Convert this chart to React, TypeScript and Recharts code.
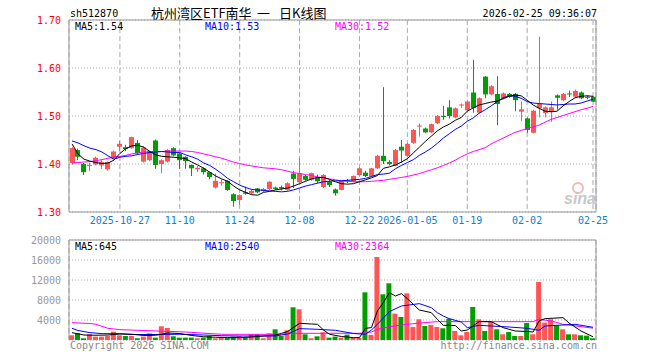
import React from 'react';
import { ComposedChart, Bar, Line, XAxis, YAxis, CartesianGrid, Cell, ReferenceLine } from 'recharts';

const RED = '#ff5555';
const GREEN = '#009f00';
const MONO = '"DejaVu Sans Mono", monospace';
const CJK = '"Noto Sans CJK SC", sans-serif';

// trading days shown (2025-10-15 .. 2026-02-25)
const dates = [
  '2025-10-15', '2025-10-16', '2025-10-17', '2025-10-20', '2025-10-21', '2025-10-22', '2025-10-23', '2025-10-24',
  '2025-10-27', '2025-10-28', '2025-10-29', '2025-10-30', '2025-10-31',
  '2025-11-03', '2025-11-04', '2025-11-05', '2025-11-06', '2025-11-07', '2025-11-10', '2025-11-11', '2025-11-12',
  '2025-11-13', '2025-11-14', '2025-11-17', '2025-11-18', '2025-11-19', '2025-11-20', '2025-11-21', '2025-11-24',
  '2025-11-25', '2025-11-26', '2025-11-27', '2025-11-28',
  '2025-12-01', '2025-12-02', '2025-12-03', '2025-12-04', '2025-12-05', '2025-12-08', '2025-12-09', '2025-12-10',
  '2025-12-11', '2025-12-12', '2025-12-15', '2025-12-16', '2025-12-17', '2025-12-18', '2025-12-19', '2025-12-22',
  '2025-12-23', '2025-12-24', '2025-12-25', '2025-12-26', '2025-12-29', '2025-12-30', '2025-12-31',
  '2026-01-05', '2026-01-06', '2026-01-07', '2026-01-08', '2026-01-09', '2026-01-12', '2026-01-13', '2026-01-14',
  '2026-01-15', '2026-01-16', '2026-01-19', '2026-01-20', '2026-01-21', '2026-01-22', '2026-01-23', '2026-01-26',
  '2026-01-27', '2026-01-28', '2026-01-29', '2026-01-30',
  '2026-02-02', '2026-02-03', '2026-02-04', '2026-02-05', '2026-02-06', '2026-02-09', '2026-02-10', '2026-02-11',
  '2026-02-12', '2026-02-13', '2026-02-24', '2026-02-25',
];

const opens = [
  1.402, 1.429, 1.400, 1.396, 1.399, 1.397, 1.389, 1.412, 1.436, 1.435,
  1.433, 1.444, 1.405, 1.408, 1.449, 1.400, 1.405, 1.433, 1.422, 1.415,
  1.398, 1.389, 1.391, 1.383, 1.351, 1.360, 1.365, 1.337, 1.325, 1.341,
  1.339, 1.349, 1.344, 1.348, 1.351, 1.352, 1.346, 1.380, 1.362, 1.375,
  1.367, 1.372, 1.352, 1.363, 1.347, 1.346, 1.366, 1.363, 1.377, 1.382,
  1.374, 1.391, 1.417, 1.404, 1.396, 1.436, 1.417, 1.444, 1.478, 1.474,
  1.466, 1.485, 1.500, 1.518, 1.497, 1.522, 1.512, 1.549, 1.507, 1.582,
  1.545, 1.546, 1.537, 1.546, 1.546, 1.509, 1.495, 1.465, 1.516, 1.506,
  1.508, 1.543, 1.533, 1.547, 1.540, 1.549, 1.540, 1.540,
];
const closes = [
  1.433, 1.415, 1.383, 1.398, 1.413, 1.404, 1.404, 1.426, 1.442, 1.431,
  1.456, 1.423, 1.434, 1.426, 1.398, 1.408, 1.429, 1.418, 1.408, 1.406,
  1.391, 1.392, 1.383, 1.373, 1.365, 1.362, 1.346, 1.323, 1.335, 1.338,
  1.344, 1.341, 1.348, 1.363, 1.348, 1.349, 1.360, 1.369, 1.381, 1.367,
  1.381, 1.364, 1.377, 1.356, 1.339, 1.365, 1.364, 1.375, 1.391, 1.375,
  1.391, 1.417, 1.406, 1.400, 1.429, 1.428, 1.442, 1.471, 1.480, 1.466,
  1.483, 1.500, 1.498, 1.500, 1.516, 1.524, 1.530, 1.517, 1.537, 1.545,
  1.562, 1.525, 1.547, 1.540, 1.533, 1.514, 1.471, 1.511, 1.525, 1.518,
  1.518, 1.538, 1.546, 1.546, 1.552, 1.537, 1.539, 1.530,
];
const highs = [
  1.436, 1.432, 1.402, 1.403, 1.415, 1.409, 1.405, 1.428, 1.448, 1.440,
  1.457, 1.450, 1.437, 1.428, 1.451, 1.410, 1.431, 1.435, 1.424, 1.416,
  1.399, 1.396, 1.393, 1.384, 1.380, 1.368, 1.366, 1.339, 1.337, 1.353,
  1.347, 1.350, 1.350, 1.364, 1.353, 1.355, 1.362, 1.386, 1.412, 1.377,
  1.382, 1.378, 1.379, 1.367, 1.349, 1.366, 1.369, 1.376, 1.393, 1.386,
  1.392, 1.419, 1.560, 1.408, 1.431, 1.450, 1.444, 1.473, 1.484, 1.476,
  1.484, 1.502, 1.521, 1.533, 1.518, 1.526, 1.532, 1.617, 1.539, 1.583,
  1.564, 1.583, 1.549, 1.548, 1.548, 1.530, 1.497, 1.513, 1.665, 1.520,
  1.530, 1.545, 1.548, 1.553, 1.555, 1.551, 1.543, 1.541,
];
const lows = [
  1.399, 1.408, 1.377, 1.385, 1.397, 1.390, 1.386, 1.410, 1.427, 1.427,
  1.432, 1.420, 1.403, 1.406, 1.390, 1.381, 1.403, 1.416, 1.390, 1.390,
  1.375, 1.383, 1.378, 1.368, 1.349, 1.355, 1.344, 1.311, 1.315, 1.336,
  1.336, 1.339, 1.342, 1.346, 1.346, 1.345, 1.344, 1.350, 1.360, 1.365,
  1.365, 1.360, 1.350, 1.352, 1.334, 1.345, 1.360, 1.362, 1.376, 1.373,
  1.373, 1.390, 1.400, 1.397, 1.395, 1.402, 1.415, 1.442, 1.457, 1.464,
  1.464, 1.483, 1.492, 1.495, 1.495, 1.517, 1.510, 1.507, 1.505, 1.537,
  1.543, 1.481, 1.535, 1.538, 1.510, 1.490, 1.465, 1.464, 1.497, 1.497,
  1.488, 1.513, 1.531, 1.540, 1.538, 1.535, 1.535, 1.529,
];

const ma5 = [
  1.442, 1.421, 1.410, 1.406, 1.403, 1.401, 1.402, 1.408, 1.422, 1.432,
  1.438, 1.439, 1.435, 1.426, 1.419, 1.416, 1.415, 1.414, 1.413, 1.411,
  1.404, 1.398, 1.391, 1.383, 1.375, 1.369, 1.364, 1.354, 1.346, 1.341,
  1.336, 1.335, 1.341, 1.343, 1.346, 1.348, 1.350, 1.354, 1.359, 1.364,
  1.369, 1.372, 1.372, 1.368, 1.363, 1.359, 1.358, 1.359, 1.363, 1.367,
  1.371, 1.376, 1.391, 1.394, 1.398, 1.404, 1.411, 1.423, 1.435, 1.447,
  1.458, 1.469, 1.477, 1.483, 1.491, 1.497, 1.510, 1.517, 1.523, 1.526,
  1.529, 1.531, 1.536, 1.541, 1.544, 1.542, 1.533, 1.523, 1.516, 1.510,
  1.509, 1.510, 1.521, 1.530, 1.538, 1.541, 1.542, 1.541,
];
const ma10 = [
  1.448, 1.444, 1.438, 1.433, 1.430, 1.425, 1.417, 1.410, 1.414, 1.416,
  1.417, 1.420, 1.422, 1.424, 1.425, 1.426, 1.425, 1.424, 1.424, 1.419,
  1.415, 1.410, 1.402, 1.397, 1.389, 1.380, 1.370, 1.363, 1.356, 1.351,
  1.347, 1.346, 1.345, 1.344, 1.343, 1.342, 1.343, 1.346, 1.350, 1.354,
  1.357, 1.360, 1.363, 1.364, 1.365, 1.365, 1.366, 1.367, 1.368, 1.370,
  1.374, 1.378, 1.379, 1.381, 1.390, 1.397, 1.403, 1.409, 1.418, 1.425,
  1.433, 1.443, 1.454, 1.463, 1.472, 1.479, 1.489, 1.496, 1.506, 1.513,
  1.521, 1.530, 1.538, 1.542, 1.541, 1.537, 1.530, 1.527, 1.526, 1.525,
  1.524, 1.523, 1.524, 1.525, 1.525, 1.527, 1.531, 1.535,
];
const ma30 = [
  1.402, 1.403, 1.404, 1.405, 1.407, 1.409, 1.412, 1.414, 1.416, 1.418,
  1.421, 1.423, 1.425, 1.426, 1.426, 1.426, 1.427, 1.427, 1.427, 1.427,
  1.426, 1.424, 1.421, 1.418, 1.415, 1.412, 1.408, 1.404, 1.401, 1.398,
  1.396, 1.394, 1.392, 1.391, 1.390, 1.388, 1.385, 1.382, 1.380, 1.378,
  1.376, 1.373, 1.371, 1.369, 1.367, 1.365, 1.364, 1.363, 1.363, 1.363,
  1.364, 1.365, 1.366, 1.368, 1.370, 1.372, 1.374, 1.377, 1.380, 1.384,
  1.388, 1.392, 1.397, 1.402, 1.408, 1.415, 1.421, 1.426, 1.430, 1.434,
  1.442, 1.448, 1.454, 1.460, 1.466, 1.470, 1.474, 1.477, 1.481, 1.487,
  1.493, 1.497, 1.501, 1.505, 1.509, 1.513, 1.516, 1.520,
];

const volumes = [
  940, 1340, 340, 1140, 670, 670, 810, 1670, 940, 810,
  810, 340, 670, 1340, 470, 2740, 2410, 740, 470, 470,
  470, 340, 470, 810, 340, 600, 470, 680, 800, 470,
  1140, 1140, 340, 1340, 2140, 800, 1940, 6540, 6140, 1140,
  340, 740, 1540, 470, 680, 470, 1070, 470, 470, 9540,
  1000, 16600, 9140, 11340, 5270, 4600, 9340, 2600, 4140, 2800,
  3000, 2600, 2340, 4270, 1800, 940, 1600, 6600, 4140, 1800,
  3600, 2140, 1140, 1600, 800, 800, 3400, 1140, 11600, 3470,
  4140, 2940, 2140, 1140, 1140, 940, 870, 340,
];

// volume moving averages, read at [day index, value]
const volMa5 = [
  [0, 1470], [2, 1000], [4, 950], [6, 1000], [8, 1200], [10, 1150], [12, 900], [14, 950], [16, 1400],
  [18, 1300], [20, 900], [22, 650], [24, 550], [26, 480], [28, 470], [30, 600], [32, 800], [34, 1000],
  [35, 1340], [36, 1700], [38, 3340], [40, 3200], [41, 3140], [42, 2000], [43, 1140], [45, 700], [47, 470],
  [48, 470], [49, 2340], [50, 2470], [51, 5800], [52, 7500], [53, 9470], [54, 8800], [55, 9270], [56, 8270],
  [58, 6000], [60, 5470], [61, 4140], [62, 2940], [64, 2900], [65, 1800], [66, 2000], [68, 3670], [70, 3670],
  [72, 2470], [74, 1800], [76, 1700], [77, 1600], [78, 3800], [79, 4270], [82, 4470], [83, 3400], [85, 1800],
  [87, 645],
];
const volMa10 = [
  [0, 2340], [1, 1900], [3, 1470], [5, 1270], [8, 1270], [10, 1100], [14, 1100], [18, 1150], [22, 1000],
  [25, 850], [28, 800], [34, 800], [35, 1000], [36, 1200], [38, 2270], [41, 2140], [44, 1940], [47, 1300],
  [49, 1140], [50, 2000], [51, 3140], [53, 5670], [55, 6800], [58, 7270], [60, 6470], [61, 5470], [62, 4800],
  [63, 4270], [65, 3600], [66, 2470], [68, 2940], [73, 2600], [76, 2340], [78, 1940], [79, 2800], [84, 3140],
  [87, 2540],
];
const volMa30 = [
  [0, 3470], [3, 3300], [4, 3140], [6, 2340], [8, 2070], [11, 1940], [19, 1600], [25, 1140], [35, 1140],
  [36, 1340], [48, 1340], [50, 1600], [51, 2140], [53, 2670], [56, 3140], [58, 3400], [61, 3670], [77, 3670],
  [78, 4140], [80, 3800], [82, 3140], [85, 2670], [87, 2364],
];

const tickDates = ['2025-10-27', '2025-11-10', '2025-11-24', '2025-12-08', '2025-12-22', '2026-01-05', '2026-01-19', '2026-02-02', '2026-02-25'];
const tickLabels = ['2025-10-27', '11-10', '11-24', '12-08', '12-22', '2026-01-05', '01-19', '02-02', '02-25'];
const priceTicks = [1.3, 1.4, 1.5, 1.6, 1.7];
const volTicks = [0, 4000, 8000, 12000, 16000, 20000];

const at = (pts: number[][], i: number) => {
  const p = pts.find((q) => q[0] === i);
  return p ? p[1] : null;
};

const rows = dates.map((d, i) => ({
  date: d,
  open: opens[i],
  close: closes[i],
  high: highs[i],
  low: lows[i],
  range: [lows[i], highs[i]],
  ma5: ma5[i],
  ma10: ma10[i],
  ma30: ma30[i],
  vol: volumes[i],
  vma5: at(volMa5, i),
  vma10: at(volMa10, i),
  vma30: at(volMa30, i),
}));

const Candle = (props: any) => {
  const { x, y, width, height, payload } = props;
  if (x == null || payload == null) return null;
  const top = height < 0 ? y + height : y;
  const h = Math.abs(height);
  const { open, close, high, low } = payload;
  const color = close >= open ? RED : GREEN;
  const k = high === low ? 0 : h / (high - low);
  const cx = Math.round(x + width / 2) + 0.5;
  const bTop = top + (high - Math.max(open, close)) * k;
  const bBot = top + (high - Math.min(open, close)) * k;
  return (
    <g>
      <line x1={cx} x2={cx} y1={top} y2={top + h} stroke={color} strokeWidth={1} />
      <rect x={cx - 2.5} y={bTop} width={5} height={Math.max(1, bBot - bTop)} fill={color} />
    </g>
  );
};

const DateTick = (props: any) => {
  const { x, y, payload } = props;
  const label = tickLabels[tickDates.indexOf(payload.value)];
  return (
    <text x={x} y={y} dy={4} textAnchor="middle" fill="#1080d0" fontSize={10} fontFamily={MONO}>
      {label}
    </text>
  );
};

const PriceTick = (props: any) => {
  const { x, y, payload } = props;
  return (
    <text x={x} y={y} dy={4} textAnchor="end" fill="#ff0000" fontSize={10} fontFamily={MONO}>
      {payload.value.toFixed(2)}
    </text>
  );
};

const VolTick = (props: any) => {
  const { x, y, payload } = props;
  if (payload.value === 0) return null;
  return (
    <text x={x} y={y} dy={4} textAnchor="end" fill="#999" fontSize={10} fontFamily={MONO}>
      {payload.value}
    </text>
  );
};

const FRAME = '#999';

export default function App() {
  return (
    <div style={{ position: 'absolute', left: 0, top: 0, width: 660, height: 360, background: '#fff' }}>
      <div style={{ position: 'absolute', left: 0, top: 0 }}>
        <ComposedChart width={660} height={230} data={rows} margin={{ top: 20, right: 63, bottom: 0, left: 0 }}>
          <CartesianGrid vertical={false} stroke="#aaa" strokeDasharray="1 2" />
          <CartesianGrid horizontal={false} stroke="#aaa" strokeDasharray="5 3" />
          <XAxis
            dataKey="date"
            ticks={tickDates}
            interval={0}
            tick={<DateTick />}
            tickLine={false}
            axisLine={{ stroke: FRAME }}
            height={18}
          />
          <YAxis
            domain={[1.3, 1.7]}
            ticks={priceTicks}
            interval={0}
            tick={<PriceTick />}
            tickLine={false}
            axisLine={{ stroke: FRAME }}
            width={69}
            allowDataOverflow
          />
          <YAxis yAxisId="r" orientation="right" domain={[0, 1]} tick={false} tickLine={false} axisLine={{ stroke: FRAME }} width={1} />
          <ReferenceLine y={1.7} stroke={FRAME} />
          <Bar dataKey="range" shape={(p: any) => <Candle {...p} />} isAnimationActive={false} barSize={5} />
          <Line dataKey="ma30" stroke="#ff00ff" strokeWidth={1} dot={false} isAnimationActive={false} />
          <Line dataKey="ma10" stroke="#0000ff" strokeWidth={1} dot={false} isAnimationActive={false} />
          <Line dataKey="ma5" stroke="#000000" strokeWidth={1} dot={false} isAnimationActive={false} />
        </ComposedChart>
      </div>
      <div style={{ position: 'absolute', left: 0, top: 230 }}>
        <ComposedChart width={660} height={120} data={rows} margin={{ top: 10, right: 63, bottom: 10, left: 0 }}>
          <CartesianGrid vertical={false} stroke="#aaa" strokeDasharray="1 2" />
          <CartesianGrid horizontal={false} stroke="#aaa" strokeDasharray="5 3" />
          <XAxis dataKey="date" ticks={tickDates} interval={0} tick={false} tickLine={false} axisLine={false} height={0} />
          <YAxis
            domain={[0, 20000]}
            ticks={volTicks}
            interval={0}
            tick={<VolTick />}
            tickLine={false}
            axisLine={{ stroke: FRAME }}
            width={69}
          />
          <YAxis yAxisId="r" orientation="right" domain={[0, 1]} tick={false} tickLine={false} axisLine={{ stroke: FRAME }} width={1} />
          <ReferenceLine y={20000} stroke={FRAME} />
          <Bar dataKey="vol" barSize={5} isAnimationActive={false}>
            {rows.map((r, i) => (
              <Cell key={`v-${i}`} fill={r.close >= r.open ? RED : GREEN} />
            ))}
          </Bar>
          <Line dataKey="vma30" stroke="#ff00ff" strokeWidth={1} dot={false} connectNulls isAnimationActive={false} />
          <Line dataKey="vma10" stroke="#0000ff" strokeWidth={1} dot={false} connectNulls isAnimationActive={false} />
          <Line dataKey="vma5" stroke="#000000" strokeWidth={1} dot={false} connectNulls isAnimationActive={false} />
        </ComposedChart>
      </div>
      <svg width={660} height={360} style={{ position: 'absolute', left: 0, top: 0, pointerEvents: 'none' }}>
        <text x={70} y={16.5} fontSize={10} fontFamily={MONO} fill="#000">sh512870</text>
        <text x={151} y={18} fontSize={13} fontFamily={CJK} fill="#000">杭州湾区ETF南华</text>
        <text x={257} y={18} fontSize={13} fontFamily={CJK} fill="#000">一</text>
        <text x={279} y={18} fontSize={13} fontFamily={CJK} fill="#000">日K线图</text>
        <text x={597} y={16.5} fontSize={10} fontFamily={MONO} fill="#000" textAnchor="end">2026-02-25 09:36:07</text>
        <text x={75} y={30} fontSize={10} fontFamily={MONO} fill="#000">MA5:1.54</text>
        <text x={205} y={30} fontSize={10} fontFamily={MONO} fill="#0000ff">MA10:1.53</text>
        <text x={335} y={30} fontSize={10} fontFamily={MONO} fill="#ff00ff">MA30:1.52</text>
        <text x={75} y={250} fontSize={10} fontFamily={MONO} fill="#000">MA5:645</text>
        <text x={205} y={250} fontSize={10} fontFamily={MONO} fill="#0000ff">MA10:2540</text>
        <text x={335} y={250} fontSize={10} fontFamily={MONO} fill="#ff00ff">MA30:2364</text>
        <circle cx={578} cy={188} r={5} fill="none" stroke="#f4b8b8" strokeWidth={2} />
        <text x={564} y={204} fontSize={16} fontWeight="bold" fontStyle="italic" fontFamily="Arial, sans-serif" fill="#c8c8c8">sina</text>
        <text x={70} y={349} fontSize={10} fontFamily={MONO} fill="#888">Copyright 2026 SINA.COM</text>
        <text x={597} y={349} fontSize={10} fontFamily={MONO} fill="#888" textAnchor="end">http://finance.sina.com.cn</text>
      </svg>
    </div>
  );
}
